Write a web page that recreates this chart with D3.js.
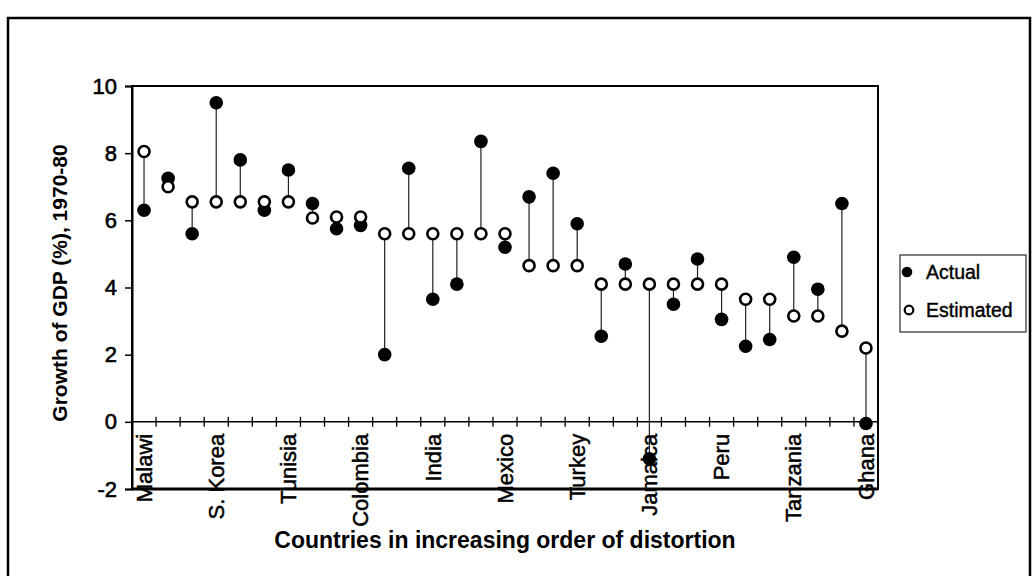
<!DOCTYPE html>
<html>
<head>
<meta charset="utf-8">
<script src="https://cdn.jsdelivr.net/npm/d3@7"></script>
<style>
  html, body { margin: 0; padding: 0; background: #fff; }
  svg { display: block; font-family: "Liberation Sans", Arial, sans-serif; }
</style>
</head>
<body>
<svg id="chart" width="1034" height="576"></svg>
<script>
// Category labels (only every third country is labelled on the axis)
const categories = ["Malawi","","","S. Korea","","","Tunisia","","","Colombia","",
  "","India","","","Mexico","","","Turkey","","","Jamaica","","","Peru","","",
  "Tanzania","","","Ghana"];
const actual = [6.3, 7.25, 5.6, 9.5, 7.8, 6.3, 7.5, 6.5, 5.75, 5.85, 2.0,
  7.55, 3.65, 4.1, 8.35, 5.2, 6.7, 7.4, 5.9, 2.55, 4.7, -1.1, 3.5,
  4.85, 3.05, 2.25, 2.45, 4.9, 3.95, 6.5, -0.05];
const estimated = [8.05, 7.0, 6.55, 6.55, 6.55, 6.55, 6.55, 6.07, 6.1, 6.1, 5.6,
  5.6, 5.6, 5.6, 5.6, 5.6, 4.65, 4.65, 4.65, 4.1, 4.1, 4.1, 4.1,
  4.1, 4.1, 3.65, 3.65, 3.15, 3.15, 2.7, 2.2];
const yTicks = [-2, 0, 2, 4, 6, 8, 10];
const seriesNames = ["Actual", "Estimated"];
const yTitle = "Growth of GDP (%), 1970-80";
const xTitle = "Countries in increasing order of distortion";

const svg = d3.select("#chart");
const mLeft = 132, mRight = 878, mTop = 86, mBottom = 489;

const x = d3.scaleBand().domain(d3.range(categories.length)).range([mLeft, mRight]).padding(0);
const y = d3.scaleLinear().domain([-2, 10]).range([mBottom, mTop]);

// Outer border
svg.append("path")
  .attr("d", `M8,590 L8,18 L1030,18 L1030,590`)
  .attr("fill", "none").attr("stroke", "#000").attr("stroke-width", 2.5);

// Plot frame
svg.append("rect")
  .attr("x", mLeft).attr("y", mTop).attr("width", mRight - mLeft).attr("height", mBottom - mTop)
  .attr("fill", "none").attr("stroke", "#000").attr("stroke-width", 2);
svg.append("line")
  .attr("x1", mLeft).attr("x2", mRight).attr("y1", y(-2)).attr("y2", y(-2))
  .attr("stroke", "#000").attr("stroke-width", 3);

// Y axis
const yAxis = svg.append("g")
  .attr("transform", `translate(${mLeft},0)`)
  .call(d3.axisLeft(y).tickValues(yTicks).tickSize(7).tickPadding(8).tickFormat(d => String(d)));
yAxis.select(".domain").attr("stroke", "#000").attr("stroke-width", 2);
yAxis.selectAll(".tick line").attr("stroke", "#000").attr("stroke-width", 1.5);
yAxis.selectAll(".tick text")
  .attr("font-family", "'Liberation Sans', Arial, sans-serif")
  .attr("font-size", 22).attr("fill", "#000")
  .attr("stroke", "#000").attr("stroke-width", 0.6);

// Zero line with category boundary ticks
svg.append("line")
  .attr("x1", mLeft).attr("x2", mRight).attr("y1", y(0)).attr("y2", y(0))
  .attr("stroke", "#000").attr("stroke-width", 1.5);
const boundaries = d3.range(categories.length + 1).map(i => mLeft + i * x.step());
svg.append("g").selectAll("line").data(boundaries).join("line")
  .attr("x1", d => d).attr("x2", d => d)
  .attr("y1", y(0) - 5).attr("y2", y(0) + 5)
  .attr("stroke", "#000").attr("stroke-width", 1.3);

// Stems
const cx = i => x(i) + x.bandwidth() / 2;
svg.append("g").selectAll("line").data(categories).join("line")
  .attr("x1", (d, i) => cx(i)).attr("x2", (d, i) => cx(i))
  .attr("y1", (d, i) => y(actual[i])).attr("y2", (d, i) => y(estimated[i]))
  .attr("stroke", "#222").attr("stroke-width", 1.2);

// Actual points
svg.append("g").selectAll("circle").data(actual).join("circle")
  .attr("cx", (d, i) => cx(i)).attr("cy", d => y(d)).attr("r", 6.8)
  .attr("fill", "#000");

// Estimated points (drawn on top)
svg.append("g").selectAll("circle").data(estimated).join("circle")
  .attr("cx", (d, i) => cx(i)).attr("cy", d => y(d)).attr("r", 5.5)
  .attr("fill", "#fff").attr("stroke", "#000").attr("stroke-width", 2.6);

// Category labels (rotated)
svg.append("g").selectAll("text").data(categories).join("text")
  .attr("transform", (d, i) => `translate(${cx(i)},${y(0) + 12}) rotate(-90)`)
  .attr("text-anchor", "end").attr("dy", "0.35em")
  .attr("font-size", 22).attr("fill", "#000")
  .attr("stroke", "#000").attr("stroke-width", 0.5)
  .text(d => d);

// Axis titles
svg.append("text")
  .attr("transform", `translate(60,283) rotate(-90)`)
  .attr("text-anchor", "middle").attr("dy", "0.35em")
  .attr("font-size", 21).attr("font-weight", "bold").attr("fill", "#000")
  .text(yTitle);
svg.append("text")
  .attr("x", (mLeft + mRight) / 2).attr("y", 548)
  .attr("text-anchor", "middle")
  .attr("font-size", 23).attr("font-weight", "bold").attr("fill", "#000")
  .text(xTitle);

// Legend
const lg = svg.append("g");
lg.append("rect").attr("x", 900).attr("y", 255).attr("width", 126).attr("height", 77)
  .attr("fill", "#fff").attr("stroke", "#000").attr("stroke-width", 1);
const rows = [272, 310];
lg.append("circle").attr("cx", 907).attr("cy", rows[0]).attr("r", 5.3).attr("fill", "#000");
lg.append("circle").attr("cx", 909).attr("cy", rows[1]).attr("r", 4.3).attr("fill", "#fff")
  .attr("stroke", "#000").attr("stroke-width", 2.2);
lg.selectAll("text").data(seriesNames).join("text")
  .attr("x", 926).attr("y", (d, i) => rows[i]).attr("dy", "0.35em")
  .attr("font-size", 19.5).attr("fill", "#000")
  .attr("stroke", "#000").attr("stroke-width", 0.4)
  .text(d => d);
</script>
</body>
</html>
